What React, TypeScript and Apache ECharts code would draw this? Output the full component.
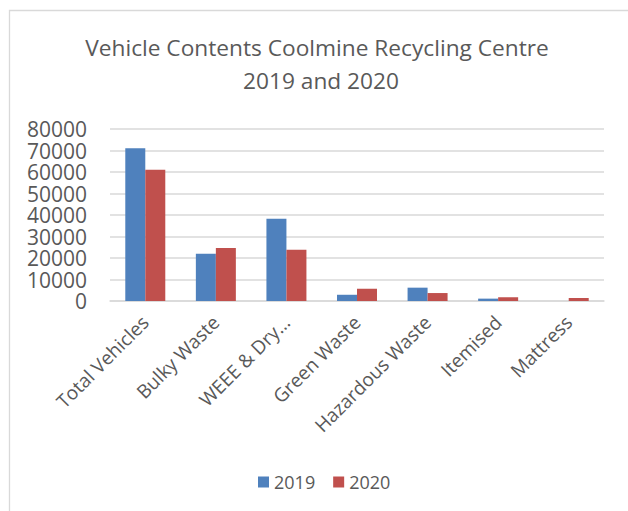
import React, { useEffect, useRef } from "react";
import * as echarts from "echarts";

const categories = ["Total Vehicles", "Bulky Waste", "WEEE & Dry…", "Green Waste", "Hazardous Waste", "Itemised", "Mattress"];
const values2019 = [71000, 22000, 38300, 2900, 6200, 1100, 0];
const values2020 = [61000, 24700, 23800, 5700, 3700, 1700, 1400];
const seriesNames = ["2019", "2020"];
const titleLines = ["Vehicle Contents Coolmine Recycling Centre", "2019 and 2020"];

const FONT = "'Open Sans', 'Noto Sans', sans-serif";
const TEXT = "#595959";

export default function App() {
  const ref = useRef<HTMLDivElement>(null);
  useEffect(() => {
    if (!ref.current) return;
    const chart = echarts.init(ref.current, undefined, { renderer: "svg" });
    chart.setOption({
      animation: false,
      backgroundColor: "#ffffff",
      textStyle: { fontFamily: FONT },
      graphic: [
        {
          type: "rect",
          shape: { x: 9.5, y: 10.5, width: 700, height: 600 },
          style: { fill: "none", stroke: "#d9d9d9", lineWidth: 1.3 },
          silent: true,
        },
        {
          type: "text",
          x: 317,
          y: 47,
          style: { text: titleLines[0], font: `22.7px ${FONT}`, fill: TEXT, align: "center", verticalAlign: "middle" },
        },
        {
          type: "text",
          x: 321,
          y: 80,
          style: { text: titleLines[1], font: `22.7px ${FONT}`, fill: TEXT, align: "center", verticalAlign: "middle" },
        },
      ],
      legend: {
        data: seriesNames,
        left: 258,
        top: 473,
        padding: 0,
        icon: "rect",
        itemWidth: 11,
        itemHeight: 11,
        itemGap: 18,
        textStyle: { color: TEXT, fontSize: 18, fontFamily: FONT, padding: [0, 0, 0, 0] },
      },
      grid: { left: 110, right: 24, top: 129, bottom: 210, containLabel: false },
      xAxis: {
        type: "category",
        data: categories,
        axisLine: { show: true, lineStyle: { color: "#d9d9d9", width: 1.5 } },
        axisTick: { show: false },
        axisLabel: { rotate: 45, color: TEXT, fontSize: 19, fontFamily: FONT, margin: 18, interval: 0 },
      },
      yAxis: {
        type: "value",
        min: 0,
        max: 80000,
        interval: 10000,
        axisLine: { show: false },
        axisTick: { show: false },
        axisLabel: {
          color: TEXT,
          fontSize: 21,
          lineHeight: 20,
          fontFamily: FONT,
          margin: 23,
          formatter: (v: number) => String(v),
        },
        splitLine: { lineStyle: { color: "#d9d9d9", width: 1.5 } },
      },
      series: [
        {
          name: seriesNames[0],
          type: "bar",
          data: values2019,
          itemStyle: { color: "#4F81BD" },
          barWidth: 20,
          barGap: "0%",
        },
        {
          name: seriesNames[1],
          type: "bar",
          data: values2020,
          itemStyle: { color: "#C0504D" },
          barWidth: 20,
          barGap: "0%",
        },
      ],
    });
    return () => chart.dispose();
  }, []);
  return <div ref={ref} style={{ position: "fixed", left: 0, top: 0, width: 628, height: 511 }} />;
}
